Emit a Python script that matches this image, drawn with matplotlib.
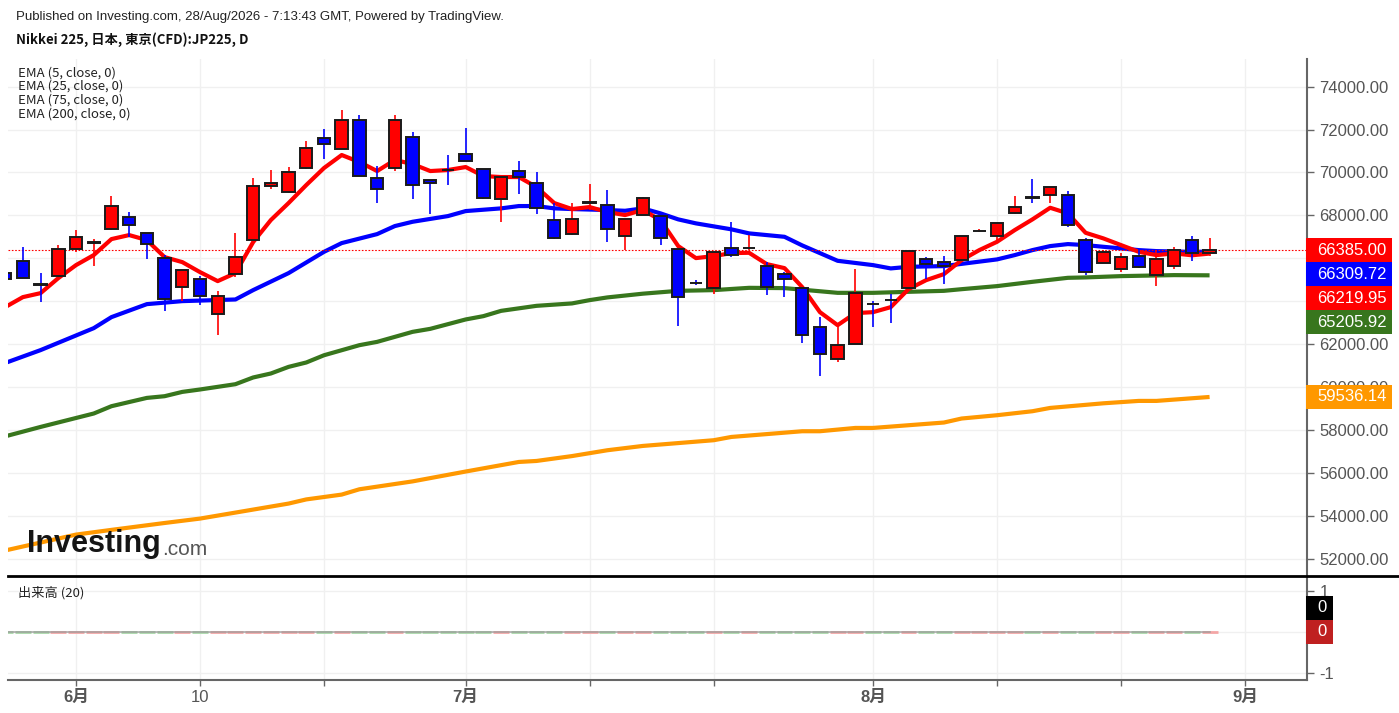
import matplotlib
matplotlib.use('Agg')
import matplotlib.pyplot as plt
from matplotlib.patches import Rectangle
from matplotlib.lines import Line2D

plt.rcParams['font.family'] = ['Liberation Sans', 'Noto Sans CJK JP', 'DejaVu Sans']

W, H = 1399, 713

# 足のインデックス (0 = 6月1日, 営業日ベース)
day_idx = list(range(-4, 65))

opens = [65323, 65869, 64790, 65169, 66415, 66730, 67348, 67908, 67189, 66023,
         64656, 65030, 63410, 65249, 66849, 69354, 69074, 70193, 71607, 71108,
         72447, 69727, 70193, 71667, 69648, 70120, 70847, 70147, 68747, 70067,
         69522, 67782, 67114, 68600, 68467, 67035, 68015, 67982, 66415, 64865,
         64595, 66489, 66480, 65650, 65249, 64595, 62804, 61297, 62011, 63870,
         64055, 64595, 65948, 65808, 65939, 67275, 67049, 68094, 68848, 68948,
         68948, 66849, 65790, 65496, 66102, 65216, 65650, 66849, 66228]
highs = [65449, 66536, 65309, 66615, 67315, 66881, 68901, 68141, 67200, 66149,
         65460, 65183, 64483, 67161, 69755, 70100, 70240, 71481, 72041, 72913,
         72680, 70301, 72680, 71901, 69650, 70814, 72059, 70160, 69834, 70534,
         70035, 68561, 68561, 69461, 69181, 67850, 68869, 68094, 66430, 64982,
         66290, 67702, 67082, 65836, 65370, 64610, 63243, 62883, 65482, 64017,
         64329, 66360, 66069, 66102, 67060, 67348, 67640, 68901, 69680, 69320,
         69148, 66928, 66382, 66228, 66415, 66382, 66536, 67035, 66928]
lows = [64889, 65076, 63956, 65150, 66303, 65636, 67330, 67002, 65976, 63522,
        64003, 63816, 62402, 65137, 66830, 69214, 69060, 70180, 70613, 71100,
        69820, 68561, 70081, 68761, 68062, 69400, 70540, 68780, 67702, 68980,
        68062, 66920, 67100, 68248, 66741, 66382, 68000, 66615, 62836, 64749,
        64329, 66041, 66382, 64283, 64203, 62058, 60504, 61143, 62000, 62804,
        62962, 64580, 65030, 64796, 65920, 67222, 66769, 68080, 68561, 68561,
        67441, 65216, 65780, 65342, 65560, 64716, 65482, 65883, 66102]
closes = [65030, 65090, 64775, 66443, 67003, 66750, 68449, 67534, 66662, 64110,
          65449, 64250, 64250, 66069, 69368, 69522, 70007, 71126, 71327, 72447,
          69834, 69214, 72447, 69414, 69494, 70105, 70548, 68794, 69801, 69774,
          68327, 66928, 67842, 68615, 67348, 67842, 68822, 66928, 64175, 64850,
          66275, 66149, 66495, 64670, 65016, 62417, 61516, 61950, 64390, 63855,
          64045, 66349, 65715, 65650, 67049, 67290, 67628, 68402, 68833, 69308,
          67548, 65370, 66303, 66069, 65575, 65948, 66382, 66228, 66385]

# 出来高 (全て0)
volumes = [0, 0, 0, 0, 0, 0, 0, 0, 0, 0, 0, 0, 0, 0, 0, 0, 0, 0, 0, 0, 0, 0, 0,
           0, 0, 0, 0, 0, 0, 0, 0, 0, 0, 0, 0, 0, 0, 0, 0, 0, 0, 0, 0, 0, 0, 0,
           0, 0, 0, 0, 0, 0, 0, 0, 0, 0, 0, 0, 0, 0, 0, 0, 0, 0, 0, 0, 0, 0, 0]

ema5 = [63723, 64190, 64376, 65076, 65682, 66149, 66895, 67082, 66849, 66055,
        65822, 65356, 64936, 65309, 66755, 67782, 68575, 69414, 70207, 70814,
        70487, 70067, 70581, 70394, 70067, 70114, 70254, 69834, 69787, 69787,
        69321, 68575, 68295, 68388, 68155, 68015, 68248, 67782, 66569, 66009,
        66102, 66242, 66257, 65729, 65542, 64656, 63490, 62883, 63443, 63490,
        63723, 64563, 64982, 65262, 65916, 66382, 66769, 67315, 67814, 68355,
        68094, 67189, 66928, 66615, 66303, 66149, 66228, 66140, 66219.95]

ema25_idx = [-4, -2, 1, 2, 4, 6, 9, 10, 12, 14, 15, 17, 18, 19, 21, 22, 24, 25, 26,
             27, 28, 30, 31, 32, 33, 34, 35, 37, 38, 40, 41, 43, 45, 46, 47, 49,
             50, 52, 53, 54, 55, 56, 57, 58, 59, 60, 61, 63, 64]
ema25_val = [61120, 61720, 62743, 63257, 63863, 64003, 64080, 64516, 65309, 66300,
             66709, 67128, 67502, 67702, 67968, 68201, 68327, 68435, 68435, 68327,
             68295, 68248, 68215, 68327, 68094, 67814, 67628, 67350, 67161, 67002,
             66600, 65883, 65682, 65528, 65603, 65636, 65740, 65948, 66149, 66382,
             66569, 66662, 66615, 66536, 66461, 66382, 66335, 66300, 66309.72]

ema75_idx = [-4, -2, 1, 2, 4, 5, 6, 7, 9, 10, 11, 12, 13, 14, 16, 17, 19, 20, 22,
             23, 24, 26, 28, 29, 30, 32, 34, 36, 38, 40, 43, 45, 47, 49, 50, 52,
             54, 56, 57, 59, 62, 64]
ema75_val = [57700, 58139, 58764, 59105, 59492, 59571, 59772, 59884, 60131, 60444,
             60630, 60938, 61143, 61480, 61950, 62104, 62571, 62711, 63149, 63303,
             63550, 63784, 63896, 64050, 64176, 64350, 64483, 64516, 64623, 64610,
             64390, 64390, 64437, 64483, 64560, 64703, 64903, 65090, 65108, 65169,
             65216, 65205.92]

ema200_idx = [-4, 0, 2, 5, 7, 12, 13, 15, 16, 19, 22, 25, 26, 28, 30, 32, 36, 37,
              41, 42, 44, 45, 49, 50, 52, 54, 55, 58, 60, 61, 64]
ema200_val = [52380, 53120, 53340, 53661, 53866, 54566, 54760, 54985, 55233, 55600,
              56060, 56506, 56553, 56780, 57052, 57253, 57519, 57672, 57938, 57938,
              58092, 58092, 58344, 58531, 58685, 58871, 59025, 59240, 59352, 59352,
              59536.14]

price_ticks = [52000, 54000, 56000, 58000, 60000, 62000, 64000, 66000,
               68000, 70000, 72000, 74000]
# 値ラベルの下に隠れる目盛ラベル
hidden_ticks = [64000, 66000]
tick_idx = [0, 7, 14, 22, 29, 36, 45, 52, 59, 66]
tick_labels = ['6月', '10', '', '7月', '', '', '8月', '', '', '9月']
bold_labels = ['6月', '7月', '8月', '9月']

up_col = '#ff0000'
dn_col = '#0000ff'
green = '#38761d'
orange = '#ff9800'


def fx(px):
    return px / W


def fy(py):
    return 1 - py / H


fig = plt.figure(figsize=(W / 100, H / 100), dpi=100)
fig.patch.set_facecolor('white')

ax = fig.add_axes([fx(8), fy(576), fx(1307) - fx(8), fy(59) - fy(576)])
axv = fig.add_axes([fx(8), fy(680), fx(1307) - fx(8), fy(578) - fy(680)], sharex=ax)

# --- ローソク足 ---
for i, o, h, l, c in zip(day_idx, opens, highs, lows, closes):
    col = up_col if c >= o else dn_col
    ax.vlines(i, l, h, color=col, lw=1.2, zorder=4)
    ax.add_patch(Rectangle((i - 0.35, min(o, c)), 0.7, abs(c - o),
                           facecolor=col, edgecolor='#1a1a1a', lw=1.4, zorder=5))

# --- EMA ---
ax.plot(ema200_idx, ema200_val, color=orange, lw=3, zorder=2, solid_capstyle='butt')
ax.plot(ema75_idx, ema75_val, color=green, lw=3, zorder=2, solid_capstyle='butt')
ax.plot(ema25_idx, ema25_val, color=dn_col, lw=3, zorder=2, solid_capstyle='butt')
ax.plot(day_idx, ema5, color=up_col, lw=3, zorder=3, solid_capstyle='butt')

ax.axhline(closes[-1], color=up_col, lw=0.8, ls=(0, (1.5, 1.5)), zorder=2.5)

ax.set_xlim(-3.84, 69.5)
ax.set_ylim(51190, 75290)
ax.yaxis.tick_right()
ax.set_yticks(price_ticks)
ax.set_yticklabels(['' if v in hidden_ticks else f'{v:.2f}' for v in price_ticks])
ax.tick_params(axis='y', length=5, width=1, color='#666', labelcolor='#555',
               labelsize=12, pad=4)
ax.set_xticks(tick_idx)
ax.tick_params(axis='x', bottom=False, labelbottom=False)
for s in ['left', 'top', 'bottom']:
    ax.spines[s].set_visible(False)
ax.spines['right'].set_color('#666')
ax.spines['right'].set_linewidth(1.5)
ax.grid(color='#f0f0f0', lw=1)
ax.set_axisbelow(True)

# --- 出来高 ---
vol_cols = ['#f4a6a6' if c >= o else '#a8d8a8' for o, c in zip(opens, closes)]
axv.bar(day_idx, volumes, width=0.9, color=vol_cols, edgecolor=vol_cols, lw=2, zorder=2)
axv.plot(day_idx, volumes, color='#9a9a9a', lw=1.2, alpha=0.8, zorder=3)
axv.set_ylim(-1.16, 1.31)
axv.yaxis.tick_right()
axv.set_yticks([-1, 0, 1])
axv.set_yticklabels(['-1', '', '1'])
axv.tick_params(axis='y', length=5, width=1, color='#666', labelcolor='#555',
                labelsize=12, pad=4)
axv.set_xticks(tick_idx)
axv.set_xticklabels(tick_labels)
axv.tick_params(axis='x', length=4, width=1, color='#666', labelcolor='#555',
                labelsize=12, pad=3)
for lab in axv.get_xticklabels():
    if lab.get_text() in bold_labels:
        lab.set_fontweight('bold')
for s in ['left', 'top']:
    axv.spines[s].set_visible(False)
for s in ['right', 'bottom']:
    axv.spines[s].set_color('#666')
    axv.spines[s].set_linewidth(1.5)
axv.grid(color='#f0f0f0', lw=1)
axv.set_axisbelow(True)

# 区切り線
fig.add_artist(Line2D([fx(8), 1.0], [fy(576), fy(576)], color='black', lw=2))


# --- 右側の値ラベル ---
def price_py(p):
    return H - ax.transData.transform((0, p))[1]


def value_box(text, color, cy, x1=1392):
    fig.add_artist(Rectangle((fx(1306), fy(cy + 12)), fx(x1) - fx(1306), 24 / H,
                             transform=fig.transFigure, facecolor=color,
                             edgecolor='none', zorder=10))
    fig.text(fx(1317), fy(cy), text, color='white', fontsize=12,
             va='center', ha='left', zorder=11)


top_py = price_py(closes[-1])
stack = [(f'{closes[-1]:.2f}', up_col), (f'{ema25_val[-1]:.2f}', dn_col),
         (f'{ema5[-1]:.2f}', up_col), (f'{ema75_val[-1]:.2f}', green)]
for k, (t, c) in enumerate(stack):
    value_box(t, c, top_py + 24 * k)
value_box(f'{ema200_val[-1]:.2f}', orange, price_py(ema200_val[-1]))
value_box('0', 'black', 608, x1=1333)
value_box('0', '#bf2020', 632, x1=1333)

# --- テキスト ---
fig.text(fx(16), fy(17), 'Published on Investing.com, 28/Aug/2026 - 7:13:43 GMT, Powered by TradingView.',
         fontsize=9.5, color='#222', va='center')
fig.text(fx(16), fy(40), 'Nikkei 225, 日本, 東京(CFD):JP225, D', fontsize=9.5,
         fontweight='bold', color='#111', va='center', family=['Noto Sans CJK JP'])
for k, t in enumerate(['EMA (5, close, 0)', 'EMA (25, close, 0)',
                       'EMA (75, close, 0)', 'EMA (200, close, 0)']):
    fig.text(fx(18), fy(72.7 + 13.8 * k), t, fontsize=9.5, color='#222',
             va='center', family=['Noto Sans CJK JP'])
fig.text(fx(18), fy(593), '出来高 (20)', fontsize=9.5, color='#222', va='center',
         family=['Noto Sans CJK JP'])

logo = fig.text(fx(27), fy(552), 'Investing', fontsize=22, fontweight='bold',
                color='#151515', va='baseline', family=['Liberation Sans'])
ax.annotate('.com', xy=(1, 0), xycoords=logo, xytext=(1, 0), textcoords='offset points',
            fontsize=15, color='#555', va='bottom', ha='left', annotation_clip=False)

fig.savefig('out.png', dpi=100, facecolor='white')
